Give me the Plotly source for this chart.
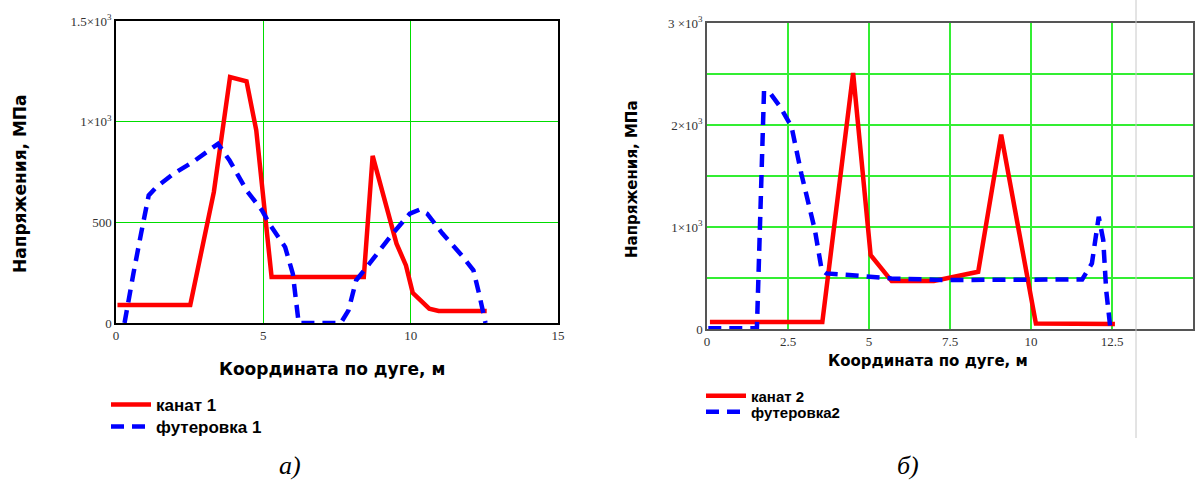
import plotly.graph_objects as go

# ---- chart a) ----
x_kanat1 = [0.05, 2.52, 3.32, 3.87, 4.43, 4.76, 5.28, 8.41, 8.71, 9.52, 9.84, 10.07, 10.63, 10.95, 12.58]
y_kanat1 = [90, 90, 650, 1222, 1200, 957, 228, 228, 830, 394, 286, 150, 71, 60, 60]
x_fut1 = [0.29, 0.42, 0.59, 0.85, 1.11, 1.37, 1.96, 2.61, 3.46, 3.85, 4.43, 4.95, 5.22, 5.74, 6.0, 6.2,
          7.63, 7.89, 8.15, 8.6, 9.39, 9.97, 10.3, 10.56, 11.08, 11.73, 12.13, 12.32, 12.54]
y_fut1 = [0, 96, 245, 444, 634, 675, 742, 800, 890, 808, 659, 560, 490, 377, 245, 0,
          0, 63, 212, 295, 444, 543, 563, 543, 444, 336, 262, 146, 0]

# ---- chart б) ----
x_kanat2 = [0.09, 3.56, 4.51, 5.05, 5.7, 7.0, 8.37, 9.08, 10.15, 12.59]
y_kanat2 = [69, 69, 2510, 725, 470, 470, 561, 1905, 55, 49]
x_fut2 = [0.04, 1.54, 1.76, 1.96, 2.26, 2.61, 2.91, 3.33, 3.54, 3.68, 4.39, 4.99, 5.7, 7.36, 8.55,
          11.58, 11.88, 12.09, 12.23, 12.32, 12.45]
y_fut2 = [7, 7, 2334, 2308, 2178, 1982, 1525, 970, 578, 545, 529, 513, 496, 480, 480,
          486, 643, 1100, 872, 382, 7]

xticks1 = [0, 5, 10, 15]
yticks1 = [0, 500, 1000, 1500]
yticks1_text = ["0", "500", "1×10<sup>3</sup>", "1.5×10<sup>3</sup>"]
xticks2 = [0, 2.5, 5, 7.5, 10, 12.5, 15]
xticks2_text = ["0", "2.5", "5", "7.5", "10", "12.5", "15"]
yticks2 = [0, 1000, 2000, 3000]
yticks2_text = ["0", "1×10<sup>3</sup>", "2×10<sup>3</sup>", "3 ×10<sup>3</sup>"]

names1 = ["канат 1", "футеровка 1"]
names2 = ["канат 2", "футеровка2"]
xtitle = "Координата по дуге, м"
ytitle = "Напряжения, МПа"

RED = "#ff0000"
BLUE = "#0000ff"
GREEN = "#00dd00"
DASH = "13px,8px"

fig = go.Figure()
fig.add_trace(go.Scatter(x=x_kanat1, y=y_kanat1, mode="lines", name=names1[0],
                         line=dict(color=RED, width=4.5), xaxis="x", yaxis="y", legend="legend"))
fig.add_trace(go.Scatter(x=x_fut1, y=y_fut1, mode="lines", name=names1[1],
                         line=dict(color=BLUE, width=4.5, dash=DASH), xaxis="x", yaxis="y", legend="legend2"))
fig.add_trace(go.Scatter(x=x_kanat2, y=y_kanat2, mode="lines", name=names2[0],
                         line=dict(color=RED, width=4.5), xaxis="x2", yaxis="y2", legend="legend3"))
fig.add_trace(go.Scatter(x=x_fut2, y=y_fut2, mode="lines", name=names2[1],
                         line=dict(color=BLUE, width=4.5, dash=DASH), xaxis="x2", yaxis="y2", legend="legend4"))

tickfont = dict(family="Liberation Serif", size=13, color="#333")
W, H = 1199, 484

common = dict(automargin=False, zeroline=False, ticks="", tickfont=tickfont, mirror=True, showline=True)


def leg(x, y, size):
    return dict(x=x / W, y=1 - y / H, xanchor="left", yanchor="middle",
                font=dict(family="Liberation Sans", size=size, color="black", weight="bold"),
                bgcolor="rgba(0,0,0,0)", itemwidth=40, tracegroupgap=0, borderwidth=0)


fig.update_layout(
    template="none",
    width=W, height=H, margin=dict(l=0, r=0, t=0, b=0, autoexpand=False),
    paper_bgcolor="white", plot_bgcolor="white",
    xaxis=dict(domain=[116 / W, 558 / W], range=[0, 15], tickvals=xticks1,
               showgrid=True, gridcolor=GREEN, gridwidth=1.3,
               linecolor="black", linewidth=1.5, anchor="y", **common),
    yaxis=dict(domain=[1 - 323 / H, 1 - 21 / H], range=[0, 1500], tickvals=yticks1,
               ticktext=yticks1_text, showgrid=True, gridcolor=GREEN, gridwidth=1.3,
               linecolor="black", linewidth=1.5, anchor="x", **common),
    xaxis2=dict(domain=[707 / W, 1193 / W], range=[0, 15], tickvals=xticks2, ticktext=xticks2_text,
                showgrid=True, gridcolor="#33ee33", gridwidth=1.5,
                linecolor="#555", linewidth=1.5, anchor="y2", **common),
    yaxis2=dict(domain=[1 - 329 / H, 1 - 23 / H], range=[0, 3000], tickvals=yticks2,
                ticktext=yticks2_text, showgrid=True, gridcolor="#33ee33", gridwidth=1.5,
                linecolor="#555", linewidth=1.5, anchor="x2",
                minor=dict(dtick=500, showgrid=True, gridcolor="#33ee33", gridwidth=1.5), **common),
    legend=leg(106, 405, 17),
    legend2=leg(106, 427, 17),
    legend3=leg(701, 396, 15),
    legend4=leg(701, 412, 15),
    showlegend=True,
)

titlefont = dict(family="DejaVu Sans", size=17, color="black", weight="bold")
titlefont2 = dict(family="DejaVu Sans", size=15, color="black", weight="bold")
anch = dict(xref="paper", yref="paper", showarrow=False, xanchor="center", yanchor="middle")
fig.add_annotation(text=xtitle, x=332 / W, y=1 - 369 / H, font=titlefont, **anch)
fig.add_annotation(text=ytitle, x=20 / W, y=1 - 184 / H, textangle=-90, font=titlefont, **anch)
fig.add_annotation(text=xtitle, x=928 / W, y=1 - 361 / H, font=titlefont2, **anch)
fig.add_annotation(text=ytitle, x=632 / W, y=1 - 179 / H, textangle=-90, font=titlefont2, **anch)
fig.add_annotation(text="а)", x=290 / W, y=1 - 465 / H,
                   font=dict(family="Liberation Serif", size=26, color="black", style="italic"), **anch)
fig.add_annotation(text="б)", x=908 / W, y=1 - 465 / H,
                   font=dict(family="Liberation Serif", size=26, color="black", style="italic"), **anch)

# page edge artifact
fig.add_shape(type="line", xref="paper", yref="paper", x0=1136 / W, x1=1136 / W,
              y0=1 - 438 / H, y1=1, line=dict(color="#c8c8c8", width=1))

fig.write_html("out.html", post_script="document.body.style.margin='0';",
               config={"displayModeBar": False})
